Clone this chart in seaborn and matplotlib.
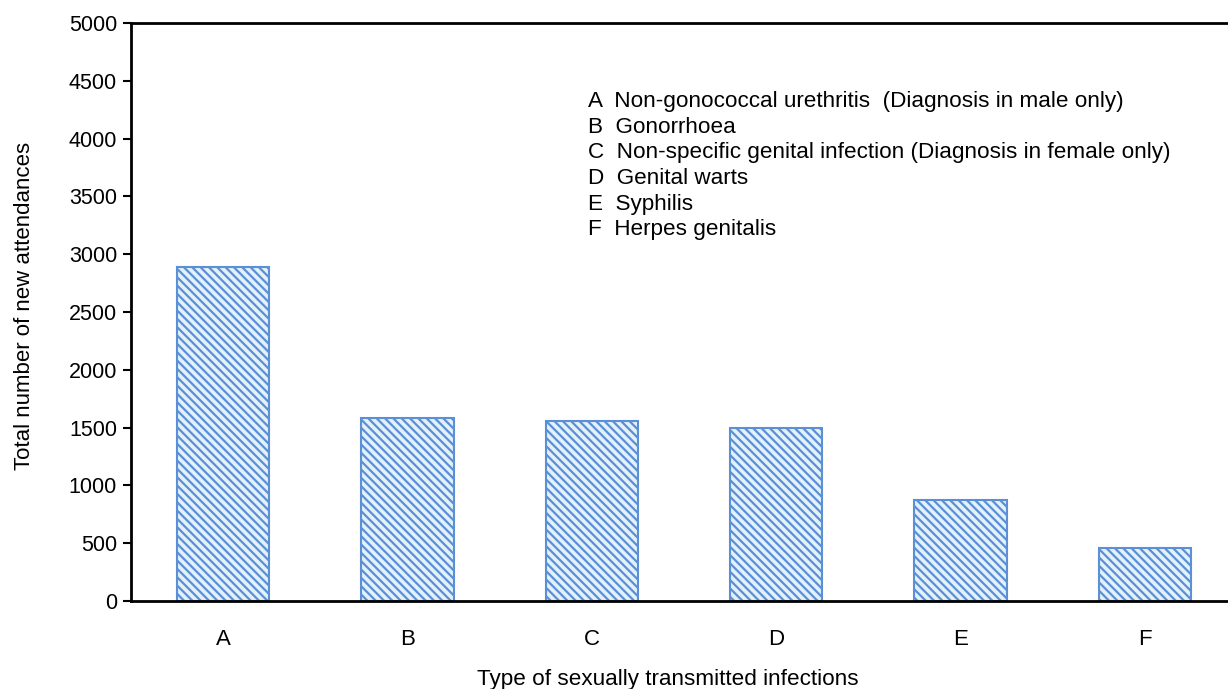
import pandas as pd
import numpy as np
import matplotlib
matplotlib.use("Agg")
import matplotlib.pyplot as plt
import seaborn as sns

categories = ["A", "B", "C", "D", "E", "F"]
attendances = [2890, 1583, 1556, 1497, 878, 462]
descriptions = [
    "Non-gonococcal urethritis  (Diagnosis in male only)",
    "Gonorrhoea",
    "Non-specific genital infection (Diagnosis in female only)",
    "Genital warts",
    "Syphilis",
    "Herpes genitalis",
]
y_ticks = list(range(0, 5001, 500))

df = pd.DataFrame({"type": categories, "count": attendances})

sns.set_style("white")
plt.rcParams["font.family"] = ["Liberation Sans", "DejaVu Sans"]
plt.rcParams["text.color"] = "black"
plt.rcParams["axes.labelcolor"] = "black"
plt.rcParams["xtick.color"] = "black"
plt.rcParams["ytick.color"] = "black"
plt.rcParams["hatch.linewidth"] = 1.6
plt.rcParams["hatch.color"] = "#6f93c2"

fig = plt.figure(figsize=(12.28, 6.89), dpi=100)
# plot area runs off the right edge of the picture, like the original
ax = fig.add_axes([131 / 1228, (689 - 601) / 689, 1106 / 1228, 578 / 689])

sns.barplot(data=df, x="type", y="count", ax=ax, width=0.5,
            color="#e3f1fa", edgecolor="#5b8fd6", linewidth=1.5, saturation=1)
for bar in ax.patches:
    bar.set_hatch("\\\\\\\\")

ax.set_ylim(0, 5000)
ax.set_yticks(y_ticks)
ax.set_yticklabels([str(t) for t in y_ticks], fontsize=15.5)
ax.tick_params(axis="x", length=0, labelsize=16, pad=20)
ax.tick_params(axis="y", direction="out", length=6, width=1.5, left=True, pad=4)

for side in ["left", "bottom", "top"]:
    ax.spines[side].set_visible(True)
    ax.spines[side].set_color("black")
    ax.spines[side].set_linewidth(2)
ax.spines["right"].set_visible(False)

ax.set_xlabel("Type of sexually transmitted infections", fontsize=16.2, labelpad=0)
ax.xaxis.set_label_coords(0.4855, -0.118)
ax.set_ylabel("Total number of new attendances", fontsize=16)
ax.yaxis.set_label_coords(-0.087, 0.51)

legend_text = "\n".join(f"{c}  {d}" for c, d in zip(categories, descriptions))
fig.text(588 / 1228, 1 - 91 / 689, legend_text, fontsize=16.2, va="top", ha="left",
         linespacing=1.29)

fig.savefig("out.png", dpi=100)
